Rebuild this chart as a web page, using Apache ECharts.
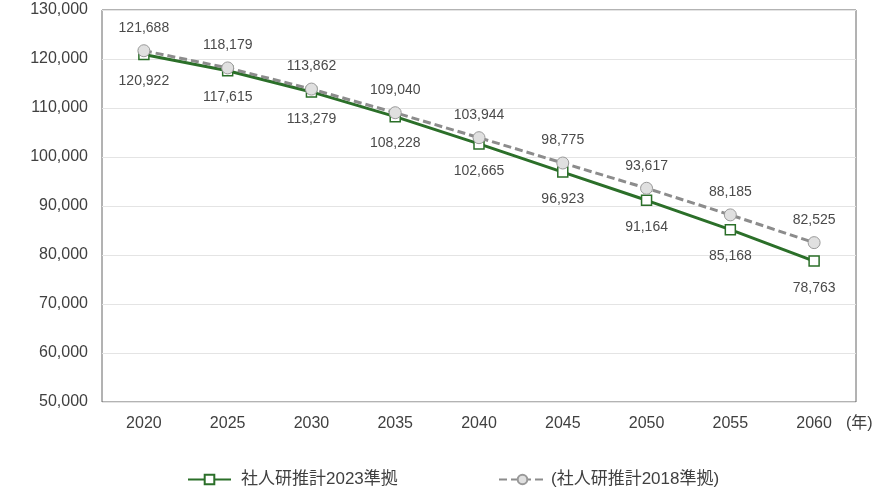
<!DOCTYPE html>
<html>
<head>
<meta charset="utf-8">
<script src="https://cdn.jsdelivr.net/npm/echarts@6/dist/echarts.min.js"></script>
<style>html,body{margin:0;padding:0;background:#fff}#c{width:893px;height:489px}</style>
</head>
<body>
<div id="c"></div>
<script>
var years = ['2020','2025','2030','2035','2040','2045','2050','2055','2060'];
var s2023 = [120922,117615,113279,108228,102665,96923,91164,85168,78763];
var s2018 = [121688,118179,113862,109040,103944,98775,93617,88185,82525];
var name2023 = '社人研推計2023準拠';
var name2018 = '(社人研推計2018準拠)';
var font = '"Liberation Sans", "Noto Sans CJK JP", sans-serif';
var chart = echarts.init(document.getElementById('c'));
chart.setOption({
  animation: false,
  textStyle: {fontFamily: font},
  grid: {left: 102, right: 37, top: 10, bottom: 87, show: true, borderColor: '#666', borderWidth: 1},
  xAxis: {
    type: 'category', data: years, boundaryGap: true,
    axisLine: {show: false}, axisTick: {show: false},
    axisLabel: {color: '#404040', fontSize: 16, margin: 14, fontFamily: font},
    name: '(年)', nameLocation: 'end', nameGap: -10,
    nameTextStyle: {color: '#404040', fontSize: 16, fontFamily: font, verticalAlign: 'top', padding: [14,0,0,0]}
  },
  yAxis: {
    type: 'value', min: 50000, max: 130000, interval: 10000,
    axisLine: {show: false}, axisTick: {show: false},
    axisLabel: {color: '#404040', fontSize: 16, margin: 14, fontFamily: font,
      formatter: function(v){return v.toLocaleString('en-US');}},
    splitLine: {lineStyle: {color: '#e4e4e4', width: 1}}
  },
  legend: [
    {
      left: 182, top: 466, itemWidth: 43, itemHeight: 12,
      textStyle: {color: '#404040', fontSize: 17, fontFamily: font, padding: [0,0,0,5]},
      data: [name2023]
    },
    {
      left: 493, top: 466, itemWidth: 47, itemHeight: 12,
      textStyle: {color: '#404040', fontSize: 17, fontFamily: font},
      data: [name2018]
    }
  ],
  series: [
    {
      name: name2023, type: 'line', data: s2023,
      symbol: 'rect', symbolSize: 10,
      lineStyle: {color: '#2b6f29', width: 3},
      itemStyle: {color: '#fff', borderColor: '#2b6f29', borderWidth: 1.5},
      label: {show: true, position: 'bottom', distance: 14, color: '#4a4a4a', fontSize: 14, fontFamily: font,
        formatter: function(p){return p.value.toLocaleString('en-US');}},
      z: 2
    },
    {
      name: name2018, type: 'line', data: s2018,
      symbol: 'circle', symbolSize: 12,
      lineStyle: {color: '#8c8c8c', width: 3, type: [8,4]},
      itemStyle: {color: '#e0e0e0', borderColor: '#999', borderWidth: 1},
      label: {show: true, position: 'top', distance: 9, color: '#4a4a4a', fontSize: 14, fontFamily: font,
        formatter: function(p){return p.value.toLocaleString('en-US');}},
      z: 3
    }
  ]
});
</script>
</body>
</html>
